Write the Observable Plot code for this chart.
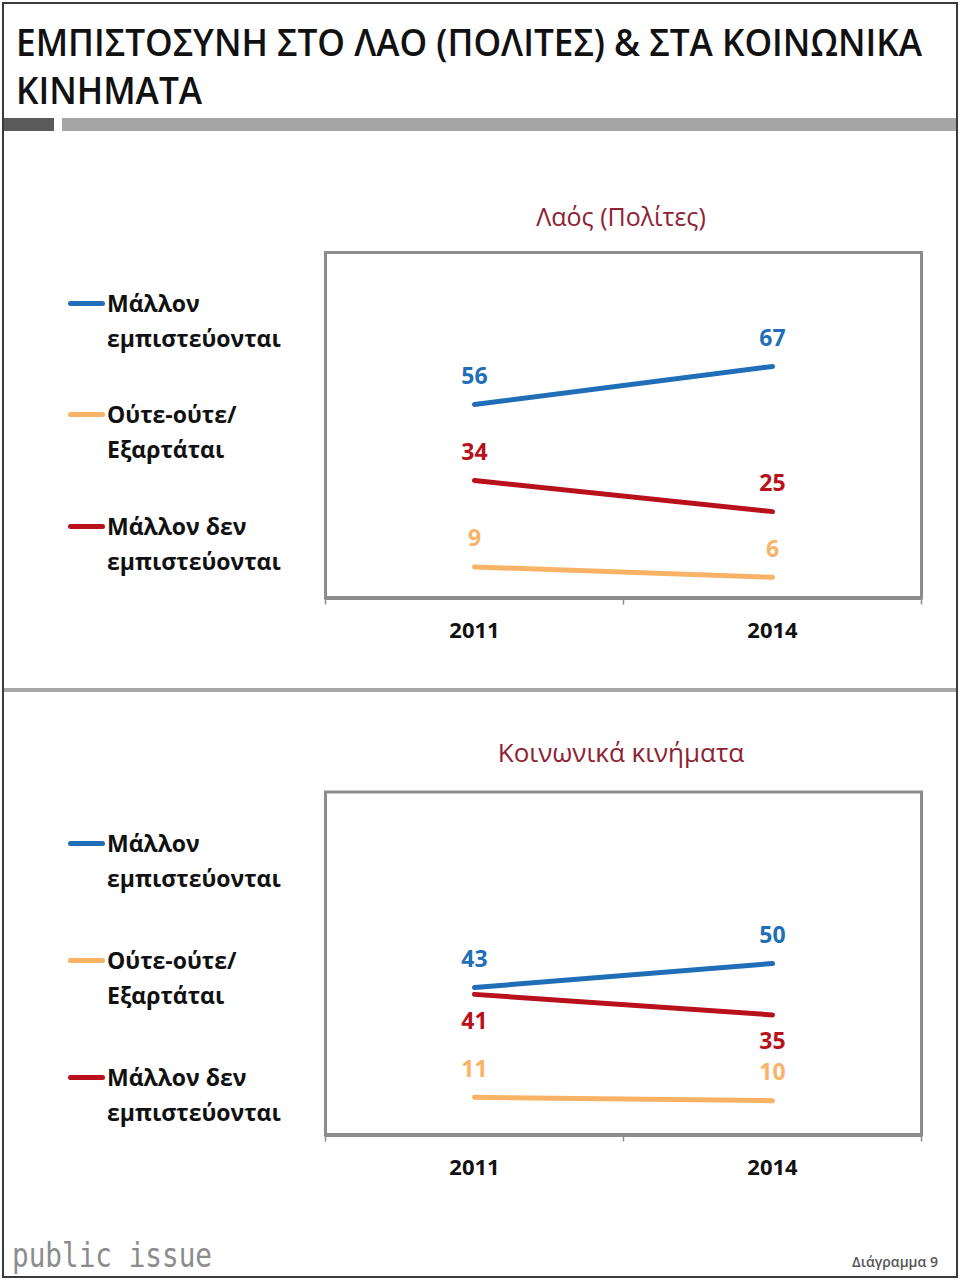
<!DOCTYPE html>
<html><head><meta charset="utf-8">
<script src="https://cdn.jsdelivr.net/npm/d3@7"></script>
<script src="https://cdn.jsdelivr.net/npm/@observablehq/plot@0.6"></script>
<style>
body{margin:0;background:#fff;}
#page{position:relative;width:960px;height:1280px;overflow:hidden;font-family:"Open Sans",sans-serif;background:#fff;}
.abs{position:absolute;white-space:nowrap;}
</style></head><body><div id="page"></div>
<script>
// ---- data ----
const titleLines = ["ΕΜΠΙΣΤΟΣΥΝΗ ΣΤΟ ΛΑΟ (ΠΟΛΙΤΕΣ) & ΣΤΑ ΚΟΙΝΩΝΙΚΑ", "ΚΙΝΗΜΑΤΑ"];
const panelTitles = ["Λαός (Πολίτες)", "Κοινωνικά κινήματα"];
const years = ["2011", "2014"];
const seriesNames = ["Μάλλον εμπιστεύονται", "Ούτε-ούτε/ Εξαρτάται", "Μάλλον δεν εμπιστεύονται"];
const legendLines = [["Μάλλον", "εμπιστεύονται"], ["Ούτε-ούτε/", "Εξαρτάται"], ["Μάλλον δεν", "εμπιστεύονται"]];
const seriesColors = ["#1f6eb7", "#f8b366", "#b8111c"];
const peopleTrust = [56, 67];
const peopleNeutral = [9, 6];
const peopleDistrust = [34, 25];
const movementsTrust = [43, 50];
const movementsNeutral = [11, 10];
const movementsDistrust = [41, 35];
const footerLogo = "public issue";
const footerLabel = "Διάγραμμα 9";

// ---- helpers ----
const page = document.getElementById("page");
function box(css, html) {
  const d = document.createElement("div");
  d.className = "abs";
  d.style.cssText = css;
  if (html != null) d.textContent = html;
  page.appendChild(d);
  return d;
}
function rowsFrom(seriesArrays) {
  const rows = [];
  seriesArrays.forEach((vals, s) => vals.forEach((v, i) => rows.push({series: seriesNames[s], year: years[i], xi: i + 0.5, value: v})));
  return rows;
}

// ---- frame and header ----
box("left:2px;top:2px;width:956px;height:1276px;box-sizing:border-box;border:2px solid #3a3a3a;");
box("left:4px;top:118px;width:50px;height:13px;background:#5a5a5a;");
box("left:62px;top:118px;width:894px;height:13px;background:#a6a6a6;");
box("left:4px;top:688px;width:952px;height:4px;background:#a6a6a6;");

const t1 = box("left:16px;top:18px;font-size:37px;font-weight:600;line-height:48px;color:#111;transform-origin:0 0;", titleLines[0]);
const t2 = box("left:16px;top:66px;font-size:37px;font-weight:600;line-height:48px;color:#111;transform-origin:0 0;", titleLines[1]);
const k = 906 / t1.getBoundingClientRect().width;
t1.style.transform = `scaleX(${k})`;
t2.style.transform = `scaleX(${k})`;

// ---- panels ----
function legend(lineYs) {
  lineYs.forEach((y, i) => {
    box(`left:68px;top:${y - 2.5}px;width:37px;height:5px;border-radius:3px;background:${seriesColors[i]};`);
    box(`left:107px;top:${y - 17.5}px;font-size:23px;font-weight:700;line-height:35px;color:#111;`,
      legendLines[i].join("\n")).style.whiteSpace = "pre";
  });
}

function chart(seriesArrays, below, marginTop, marginBottom) {
  const rows = rowsFrom(seriesArrays);
  const yearRows = years.map((y, i) => ({year: y, xi: i + 0.5}));
  const gray = "#8c8c8c";
  return Plot.plot({
    width: 640, height: 420,
    marginLeft: 25, marginRight: 19, marginTop, marginBottom,
    x: {domain: [0, years.length], axis: null, label: null},
    y: {domain: [0, 100], axis: null, label: null},
    color: {domain: seriesNames, range: seriesColors},
    style: {fontFamily: "Open Sans, sans-serif", background: "transparent", overflow: "visible"},
    marks: [
      Plot.frame({stroke: gray, strokeWidth: 3}),
      Plot.ruleY([0], {stroke: gray, strokeWidth: 4}),
      Plot.axisX(d3.range(years.length + 1), {tickSize: 7, tickFormat: () => "", stroke: gray, strokeWidth: 1.5, label: null}),
      Plot.text(yearRows, {x: "xi", frameAnchor: "bottom", text: "year", dy: 40, fontSize: 22, fontWeight: "bold", fill: "#111"}),
      Plot.line(rows, {x: "xi", y: "value", z: "series", stroke: "series", strokeWidth: 5, strokeLinecap: "round"}),
      Plot.text(rows.filter(d => !below.includes(d.series)), {x: "xi", y: "value", text: d => String(d.value), fill: "series", dy: -28, fontSize: 23, fontWeight: "bold"}),
      Plot.text(rows.filter(d => below.includes(d.series)), {x: "xi", y: "value", text: d => String(d.value), fill: "series", dy: 27, fontSize: 23, fontWeight: "bold"})
    ]
  });
}

// panel 1
box("left:321px;top:200px;width:600px;text-align:center;font-size:25px;font-weight:500;line-height:32px;color:#8e2233;", panelTitles[0]);
legend([303, 414, 526]);
const c1 = chart([peopleTrust, peopleNeutral, peopleDistrust], [], 22, 52.5);
const w1 = box("left:300px;top:230px;");
w1.appendChild(c1);

// panel 2
box("left:321px;top:736px;width:600px;text-align:center;font-size:26px;font-weight:500;line-height:32px;color:#8e2233;", panelTitles[1]);
legend([843, 960, 1077]);
const c2 = chart([movementsTrust, movementsNeutral, movementsDistrust], [seriesNames[2]], 21.5, 55.5);
const w2 = box("left:300px;top:770px;");
w2.appendChild(c2);

// ---- footer ----
const logo = box("left:12px;top:1236px;font-family:'DejaVu Sans Mono',monospace;font-size:33px;line-height:40px;color:#8c8c8c;transform-origin:0 0;", footerLogo);
logo.style.transform = `scaleX(${200 / logo.getBoundingClientRect().width})`;
box("right:22px;top:1252px;font-size:14px;font-weight:600;line-height:20px;color:#555;", footerLabel);
</script>
</body></html>
